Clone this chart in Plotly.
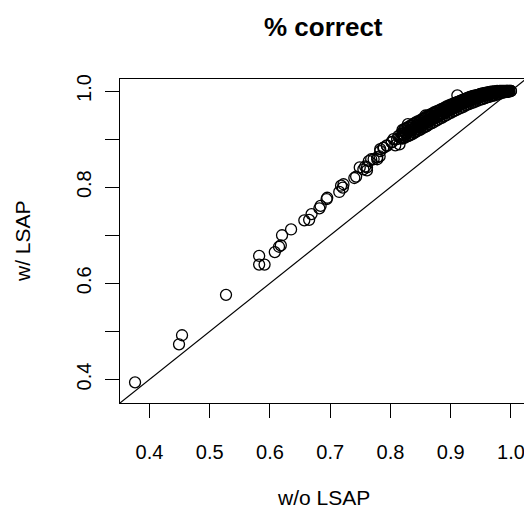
import plotly.graph_objects as go

# w/o LSAP (x) and w/ LSAP (y)
w_o_lsap = [
    0.376, 0.449, 0.454, 0.527, 0.582, 0.582, 0.591, 0.608, 0.615, 0.618,
    0.620, 0.635, 0.657, 0.665, 0.669, 0.682, 0.684, 0.695, 0.694, 0.715,
    0.718, 0.721, 0.722, 0.740, 0.743, 0.749, 0.755, 0.758, 0.761, 0.761,
    0.764, 0.768, 0.772, 0.778, 0.778, 0.782, 0.783, 0.783, 0.788, 0.789,
    0.794, 0.794, 0.802, 0.802, 0.805, 0.808, 0.811, 0.813, 0.815, 0.816,
    0.829, 0.858, 0.860, 0.911,
    0.818, 0.818, 0.822, 0.822, 0.822, 0.826, 0.826, 0.831, 0.831, 0.831,
    0.835, 0.835, 0.839, 0.839, 0.839, 0.843, 0.843, 0.847, 0.847, 0.847,
    0.851, 0.851, 0.855, 0.855, 0.855, 0.859, 0.859, 0.863, 0.863, 0.863,
    0.867, 0.867, 0.871, 0.871, 0.871, 0.875, 0.875, 0.879, 0.879, 0.879,
    0.883, 0.883, 0.887, 0.887, 0.887, 0.891, 0.891, 0.895, 0.895, 0.895,
    0.899, 0.899, 0.903, 0.903, 0.903, 0.907, 0.907, 0.911, 0.911, 0.911,
    0.915, 0.915, 0.919, 0.919, 0.919, 0.923, 0.923, 0.927, 0.927, 0.927,
    0.931, 0.931, 0.935, 0.935, 0.935, 0.939, 0.939, 0.943, 0.943, 0.943,
    0.947, 0.947, 0.951, 0.951, 0.951, 0.955, 0.955, 0.959, 0.959, 0.959,
    0.963, 0.963, 0.967, 0.967, 0.967, 0.971, 0.971, 0.975, 0.975, 0.975,
    0.979, 0.979, 0.983, 0.983, 0.987, 0.987, 0.991, 0.991, 0.995, 0.995,
    1.000, 1.000,
]
w_lsap = [
    0.394, 0.473, 0.492, 0.576, 0.657, 0.639, 0.639, 0.665, 0.676, 0.679,
    0.700, 0.712, 0.731, 0.732, 0.744, 0.756, 0.761, 0.778, 0.775, 0.790,
    0.803, 0.799, 0.806, 0.819, 0.822, 0.841, 0.837, 0.843, 0.835, 0.841,
    0.854, 0.858, 0.858, 0.858, 0.862, 0.864, 0.879, 0.875, 0.882, 0.882,
    0.886, 0.887, 0.893, 0.894, 0.900, 0.887, 0.900, 0.906, 0.889, 0.903,
    0.931, 0.949, 0.927, 0.991,
    0.902, 0.912, 0.908, 0.918, 0.903, 0.911, 0.921, 0.909, 0.916, 0.925,
    0.918, 0.928, 0.914, 0.922, 0.932, 0.920, 0.930, 0.924, 0.935, 0.928,
    0.926, 0.938, 0.930, 0.941, 0.935, 0.933, 0.944, 0.936, 0.947, 0.940,
    0.939, 0.950, 0.942, 0.953, 0.946, 0.945, 0.955, 0.947, 0.958, 0.952,
    0.950, 0.960, 0.952, 0.962, 0.957, 0.955, 0.965, 0.958, 0.967, 0.962,
    0.960, 0.970, 0.963, 0.972, 0.967, 0.966, 0.975, 0.968, 0.977, 0.972,
    0.971, 0.979, 0.973, 0.981, 0.977, 0.975, 0.983, 0.977, 0.985, 0.981,
    0.979, 0.987, 0.981, 0.988, 0.984, 0.983, 0.990, 0.985, 0.991, 0.988,
    0.987, 0.992, 0.988, 0.994, 0.991, 0.990, 0.995, 0.991, 0.996, 0.993,
    0.992, 0.997, 0.994, 0.997, 0.995, 0.995, 0.998, 0.996, 0.999, 0.997,
    0.997, 0.999, 0.998, 1.000, 0.998, 1.000, 0.999, 1.000, 0.999, 1.000,
    1.000, 1.000,
]

# the dense band near the top right (three readings per x position)
band_w_o_lsap = [
    0.820, 0.820, 0.820, 0.824, 0.824, 0.824, 0.829, 0.829, 0.829,
    0.833, 0.833, 0.833, 0.837, 0.837, 0.837, 0.841, 0.841, 0.841,
    0.845, 0.845, 0.845, 0.849, 0.849, 0.849, 0.853, 0.853, 0.853,
    0.857, 0.857, 0.857, 0.861, 0.861, 0.861, 0.865, 0.865, 0.865,
    0.869, 0.869, 0.869, 0.873, 0.873, 0.873, 0.877, 0.877, 0.877,
    0.881, 0.881, 0.881, 0.885, 0.885, 0.885, 0.889, 0.889, 0.889,
    0.893, 0.893, 0.893, 0.897, 0.897, 0.897, 0.901, 0.901, 0.901,
    0.905, 0.905, 0.905, 0.909, 0.909, 0.909, 0.913, 0.913, 0.913,
    0.917, 0.917, 0.917, 0.921, 0.921, 0.921, 0.925, 0.925, 0.925,
    0.929, 0.929, 0.929, 0.933, 0.933, 0.933, 0.937, 0.937, 0.937,
    0.941, 0.941, 0.941, 0.945, 0.945, 0.945, 0.949, 0.949, 0.949,
    0.953, 0.953, 0.953, 0.957, 0.957, 0.957, 0.961, 0.961, 0.961,
    0.965, 0.965, 0.965, 0.969, 0.969, 0.969, 0.973, 0.973, 0.973,
    0.977, 0.977, 0.977, 0.981, 0.981, 0.981, 0.985, 0.985, 0.985,
    0.989, 0.989, 0.989, 0.993, 0.993, 0.993, 0.997, 0.997, 0.997,
]
band_w_lsap = [
    0.901, 0.910, 0.919, 0.903, 0.913, 0.922, 0.906, 0.916, 0.925,
    0.908, 0.918, 0.928, 0.911, 0.921, 0.931, 0.914, 0.924, 0.934,
    0.917, 0.927, 0.937, 0.919, 0.929, 0.939, 0.922, 0.932, 0.942,
    0.925, 0.935, 0.945, 0.928, 0.938, 0.948, 0.931, 0.941, 0.951,
    0.933, 0.943, 0.953, 0.936, 0.946, 0.956, 0.939, 0.949, 0.958,
    0.942, 0.951, 0.960, 0.944, 0.954, 0.963, 0.947, 0.956, 0.965,
    0.950, 0.959, 0.968, 0.953, 0.962, 0.970, 0.955, 0.964, 0.972,
    0.958, 0.967, 0.974, 0.960, 0.969, 0.976, 0.963, 0.971, 0.978,
    0.965, 0.973, 0.980, 0.967, 0.975, 0.982, 0.970, 0.977, 0.984,
    0.972, 0.979, 0.986, 0.974, 0.981, 0.988, 0.976, 0.983, 0.990,
    0.978, 0.985, 0.991, 0.980, 0.987, 0.992, 0.982, 0.988, 0.994,
    0.983, 0.990, 0.995, 0.985, 0.991, 0.996, 0.987, 0.993, 0.997,
    0.988, 0.994, 0.998, 0.990, 0.995, 0.999, 0.991, 0.996, 0.999,
    0.993, 0.997, 1.000, 0.994, 0.998, 1.000, 0.996, 0.999, 1.000,
    0.997, 0.999, 1.000, 0.998, 1.000, 1.000, 0.999, 1.000, 1.000,
]

x_ticks = [0.4, 0.5, 0.6, 0.7, 0.8, 0.9, 1.0]
x_tick_labels = ["0.4", "0.5", "0.6", "0.7", "0.8", "0.9", "1.0"]
y_ticks = [0.4, 0.5, 0.6, 0.7, 0.8, 0.9, 1.0]
y_tick_labels = ["0.4", "", "0.6", "", "0.8", "", "1.0"]

title_text = "<b>% correct</b>"
x_title = "w/o LSAP"
y_title = "w/ LSAP"

xs = w_o_lsap + band_w_o_lsap
ys = w_lsap + band_w_lsap

# R-style limits: common range of both variables, extended by 4%
all_vals = xs + ys
lo, hi = min(all_vals), max(all_vals)
pad = 0.04 * (hi - lo)
lim = [lo - pad, hi + pad]

W, H = 532, 512
OFF = 8  # page body margin of the browser
# desired plot frame in window pixels: left 120, right 526, top 79, bottom 403
ML = 120 - OFF
MT = 79 - OFF
MR = W - (526 - OFF)
MB = H - (403 - OFF)
FONT = "Liberation Sans, Arial, Helvetica, sans-serif"

fig = go.Figure()
fig.add_trace(go.Scatter(
    x=lim, y=lim, mode="lines",
    line=dict(color="black", width=1.2),
    hoverinfo="skip", showlegend=False,
))
fig.add_trace(go.Scatter(
    x=xs, y=ys, mode="markers",
    marker=dict(symbol="circle-open", size=11, color="black",
                line=dict(width=1.3, color="black")),
    showlegend=False,
))

axis_common = dict(
    range=lim, showgrid=False, zeroline=False,
    showline=True, mirror=True, linecolor="black", linewidth=1.2,
    ticks="outside", ticklen=14, tickwidth=1.2, tickcolor="black",
    tickfont=dict(family=FONT, size=20, color="black"),
)
fig.update_xaxes(tickvals=x_ticks, ticktext=x_tick_labels,
                 ticklabelstandoff=17, **axis_common)
fig.update_yaxes(tickvals=y_ticks, ticktext=y_tick_labels, tickangle=-90,
                 ticklabelstandoff=6, **axis_common)

ph = H - MT - MB
pw = W - ML - MR
fig.update_layout(
    width=W, height=H,
    margin=dict(l=ML, r=MR, t=MT, b=MB, pad=0),
    paper_bgcolor="white", plot_bgcolor="white",
    font=dict(family=FONT, color="black"),
    annotations=[
        dict(text=title_text, xref="paper", yref="paper",
             x=0.5, y=1 + (79 - 27) / ph, xanchor="center", yanchor="middle",
             showarrow=False, font=dict(size=26, family=FONT)),
        dict(text=x_title, xref="paper", yref="paper",
             x=0.5, y=-(497 - 403) / ph, xanchor="center", yanchor="middle",
             showarrow=False, font=dict(size=21, family=FONT)),
        dict(text=y_title, xref="paper", yref="paper",
             x=-(120 - 22) / pw, y=0.5, xanchor="center", yanchor="middle",
             textangle=-90, showarrow=False, font=dict(size=21, family=FONT)),
    ],
)

fig.write_html("out.html")
